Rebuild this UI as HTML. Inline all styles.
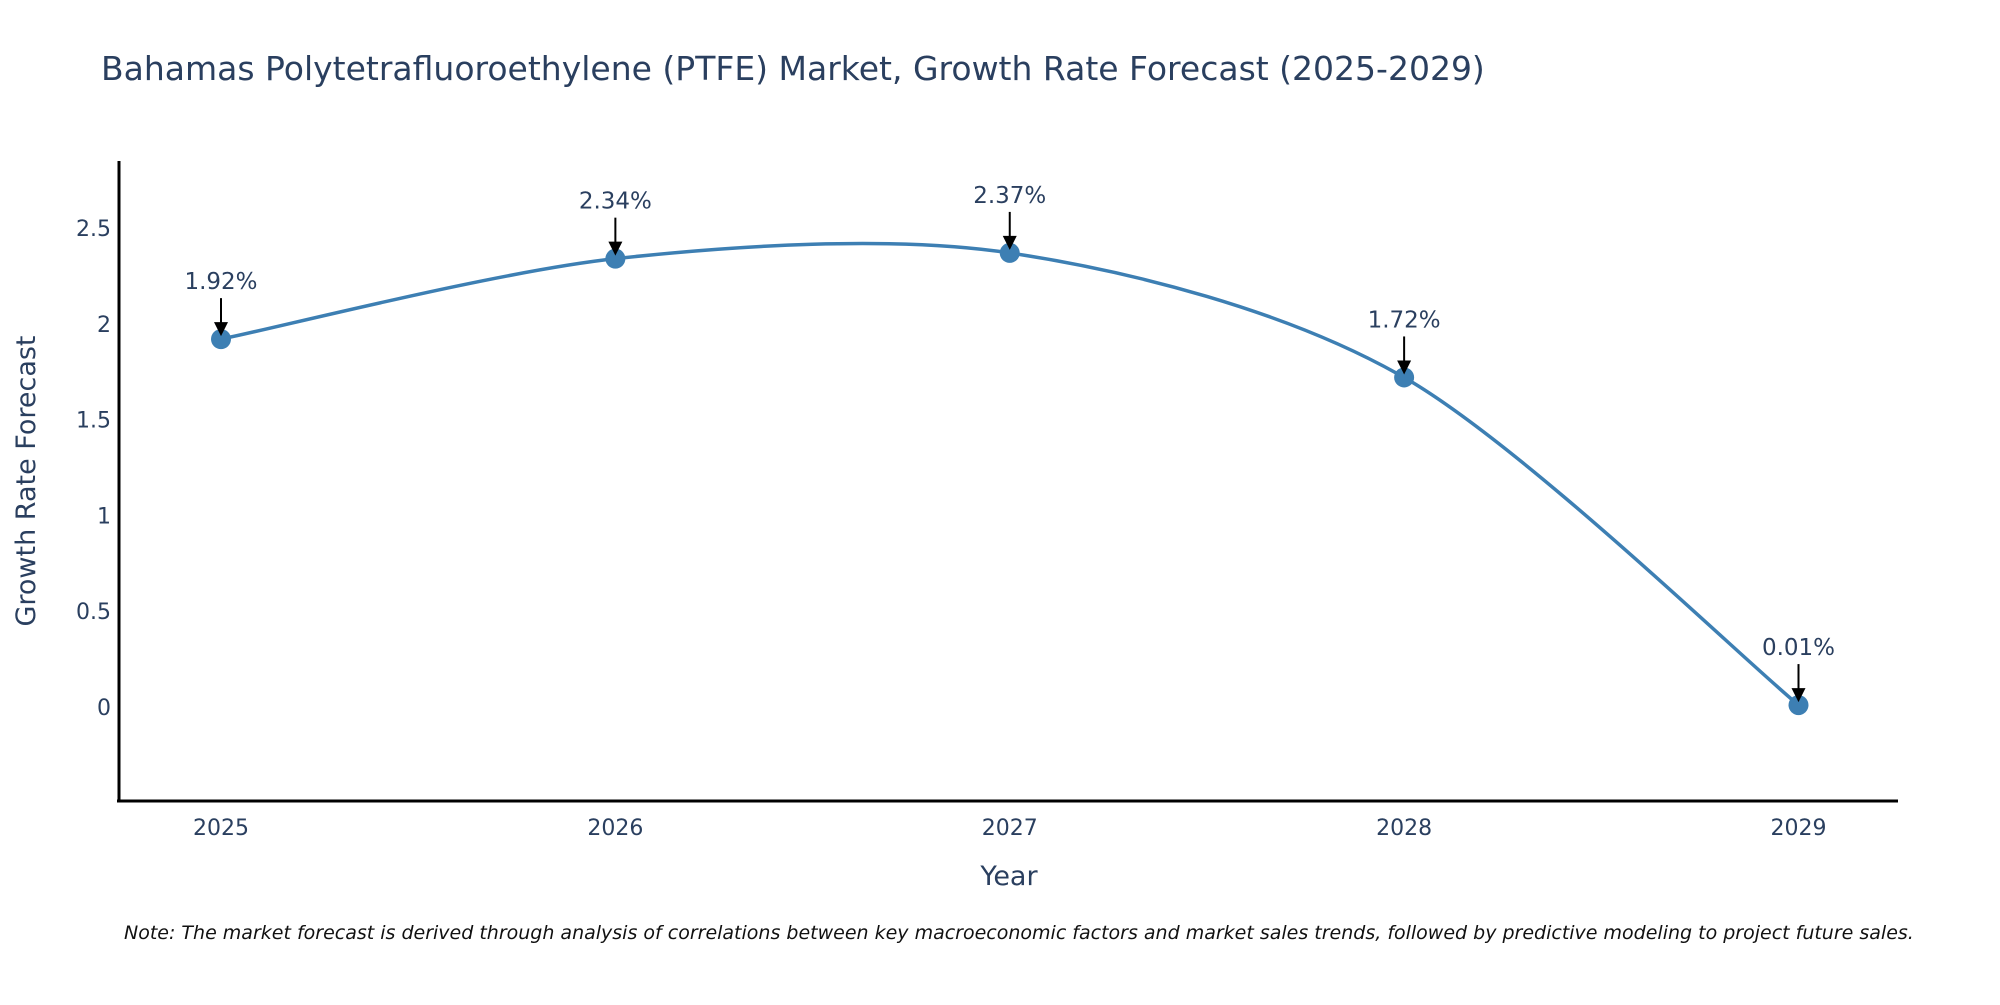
<!DOCTYPE html>
<html><head><meta charset="utf-8"><style>
body{margin:0;background:#fff;}
svg text{font-family:"DejaVu Sans","Liberation Sans",sans-serif;}
</style></head><body>
<svg id="chart" width="2000" height="1000" xmlns="http://www.w3.org/2000/svg">
<rect width="2000" height="1000" fill="#fff"/>
<text x="101" y="80" font-size="33" fill="#2a3f5f">Bahamas Polytetrafluoroethylene (PTFE) Market, Growth Rate Forecast (2025-2029)</text>
<g id="yticks"></g><g id="xticks"></g>
<path id="line" fill="none" stroke="#3d7fb3" stroke-width="3.5"/>
<g id="marks"></g>
<line x1="119" y1="161" x2="119" y2="802" stroke="#000" stroke-width="3"/>
<line x1="117" y1="801" x2="1898" y2="801" stroke="#000" stroke-width="3"/>
<text x="1009" y="885" font-size="27" fill="#2a3f5f" text-anchor="middle">Year</text>
<text transform="translate(35,481) rotate(-90)" font-size="27" fill="#2a3f5f" text-anchor="middle">Growth Rate Forecast</text>
<text x="124" y="939" font-size="19" font-style="italic" fill="#111">Note: The market forecast is derived through analysis of correlations between key macroeconomic factors and market sales trends, followed by predictive modeling to project future sales.</text>
</svg>
<script>
const years=[2025,2026,2027,2028,2029];
const values=[1.92,2.34,2.37,1.72,0.01];
const labels=["1.92%","2.34%","2.37%","1.72%","0.01%"];
const yTicks=[0,0.5,1,1.5,2,2.5];
const yTickLabels=["0","0.5","1","1.5","2","2.5"];
const X=v=>221+(v-2025)*(1798.5-221)/4;
const Y=v=>707-v*191.6;
const NS="http://www.w3.org/2000/svg";
function mk(t,a,p){const e=document.createElementNS(NS,t);for(const k in a)e.setAttribute(k,a[k]);p.appendChild(e);return e;}
const yt=document.getElementById('yticks');
yTicks.forEach((v,i)=>{const t=mk('text',{x:111,y:Y(v)+8,'font-size':22,fill:'#2a3f5f','text-anchor':'end'},yt);


t.textContent=yTickLabels[i];});
const xt=document.getElementById('xticks');
years.forEach(y=>{const t=mk('text',{x:X(y),y:835,'font-size':22,fill:'#2a3f5f','text-anchor':'middle'},xt);


t.textContent=y;});
const pts=years.map((y,i)=>[X(y),Y(values[i])]);
let d=`M${pts[0][0]},${pts[0][1]}`;const s=0.45;
for(let i=0;i<pts.length-1;i++){const p0=pts[i-1]||pts[i],p1=pts[i],p2=pts[i+1],p3=pts[i+2]||p2;
const c1=[p1[0]+(p2[0]-p0[0])*s/3,p1[1]+(p2[1]-p0[1])*s/3],c2=[p2[0]-(p3[0]-p1[0])*s/3,p2[1]-(p3[1]-p1[1])*s/3];
d+=` C${c1[0]},${c1[1]} ${c2[0]},${c2[1]} ${p2[0]},${p2[1]}`;}
document.getElementById('line').setAttribute('d',d);
const mg=document.getElementById('marks');
pts.forEach((p,i)=>{
const c=mk('circle',{cx:p[0],cy:p[1],r:10,fill:'#3d7fb3'},mg);


const l=mk('line',{x1:p[0],y1:p[1]-41,x2:p[0],y2:p[1]-14,stroke:'#000','stroke-width':2},mg);


const h=mk('polygon',{points:`${p[0]-7},${p[1]-17} ${p[0]+7},${p[1]-17} ${p[0]},${p[1]-3}`,fill:'#000'},mg);


const t=mk('text',{x:p[0],y:p[1]-50,'font-size':23,fill:'#2a3f5f','text-anchor':'middle'},mg);


t.textContent=labels[i];});
</script>
</body></html>
